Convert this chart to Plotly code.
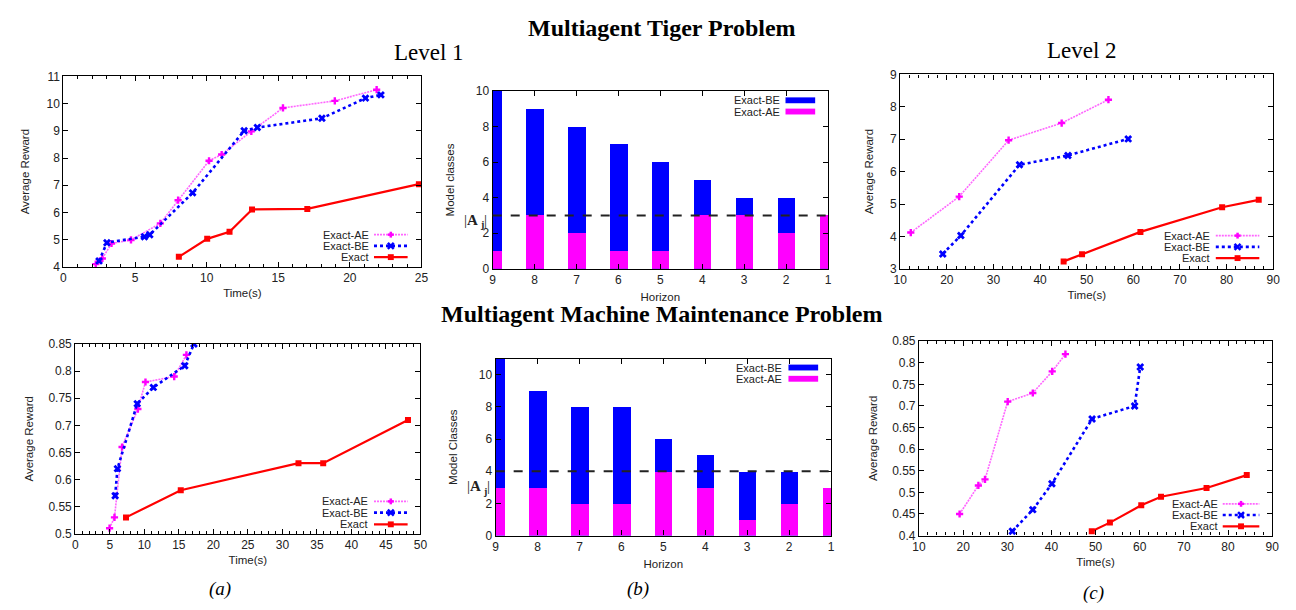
import plotly.graph_objects as go
from plotly.subplots import make_subplots

# ---------------- data ----------------
# Multiagent Tiger, Level 1
t1_ae_x = [2.26, 2.72, 3.36, 4.72, 6.77, 8.01, 10.17, 11.05, 13.12, 15.33, 18.95, 21.87]
t1_ae_y = [4.10, 4.31, 4.86, 4.99, 5.60, 6.45, 7.90, 8.13, 8.98, 9.84, 10.10, 10.51]
t1_be_x = [2.49, 3.04, 5.66, 6.03, 9.02, 12.62, 13.54, 18.05, 21.09, 22.17]
t1_be_y = [4.22, 4.89, 5.11, 5.18, 6.72, 9.00, 9.12, 9.46, 10.20, 10.32]
t1_ex_x = [8.06, 10.04, 11.60, 13.17, 17.03, 24.82]
t1_ex_y = [4.37, 5.03, 5.29, 6.11, 6.13, 7.04]

# Multiagent Tiger, model classes per horizon
horizon = [9, 8, 7, 6, 5, 4, 3, 2, 1]
tiger_be = [10, 9, 8, 7, 6, 5, 4, 4, 3]
tiger_ae = [1, 3, 2, 1, 1, 3, 3, 2, 3]
tiger_aj = 3

# Multiagent Tiger, Level 2
t2_ae_x = [12.26, 22.65, 33.25, 44.63, 54.66]
t2_ae_y = [4.12, 5.23, 6.97, 7.50, 8.22]
t2_be_x = [19.12, 23.00, 35.58, 45.97, 58.90]
t2_be_y = [3.46, 4.03, 6.21, 6.50, 7.01]
t2_ex_x = [45.05, 49.00, 61.52, 79.05, 86.90]
t2_ex_y = [3.23, 3.45, 4.14, 4.90, 5.13]

# Machine Maintenance, Level 1
m1_ae_x = [4.97, 5.68, 6.78, 9.07, 10.17, 14.33, 16.10]
m1_ae_y = [0.51, 0.53, 0.66, 0.73, 0.78, 0.79, 0.83]
m1_be_x = [5.78, 6.11, 8.98, 11.31, 15.86, 17.19]
m1_be_y = [0.57, 0.62, 0.74, 0.77, 0.81, 0.85]
m1_ex_x = [7.35, 15.28, 32.33, 35.91, 48.19]
m1_ex_y = [0.53, 0.58, 0.63, 0.63, 0.71]

# Machine Maintenance, model classes per horizon
mach_be = [11, 9, 8, 8, 6, 5, 4, 4, 3]
mach_ae = [3, 3, 2, 2, 4, 3, 1, 2, 3]
mach_aj = 4

# Machine Maintenance, Level 2
m2_ae_x = [19.19, 23.44, 24.94, 30.09, 35.77, 40.17, 43.16]
m2_ae_y = [0.45, 0.516, 0.53, 0.71, 0.73, 0.78, 0.82]
m2_be_x = [31.13, 35.77, 40.10, 49.20, 58.84, 60.11]
m2_be_y = [0.41, 0.46, 0.52, 0.67, 0.70, 0.79]
m2_ex_x = [49.13, 53.24, 60.34, 64.82, 75.13, 84.24]
m2_ex_y = [0.41, 0.43, 0.47, 0.49, 0.51, 0.54]

# ---------------- styling ----------------
W, H = 1296, 610
SANS = "Liberation Sans, Arial, sans-serif"
SERIF = "Liberation Serif, Times New Roman, serif"
MAG = "#ff00ff"
MAG_LINE = "#ff66ff"
BLUE = "#0000ff"
RED = "#ff0000"
TXT = "#222222"

AE_LINE = dict(color=MAG_LINE, width=1.6, dash="2px,1px")
BE_LINE = dict(color=BLUE, width=2.6, dash="dot")
EX_LINE = dict(color=RED, width=2.2)

fig = make_subplots(rows=2, cols=3)


def add_lines(row, col, ae, be, ex):
    fig.add_trace(go.Scatter(x=ae[0], y=ae[1], name="Exact-AE", mode="lines+markers",
                             line=AE_LINE, marker=dict(symbol="cross", size=6, color=MAG)),
                  row=row, col=col)
    fig.add_trace(go.Scatter(x=be[0], y=be[1], name="Exact-BE", mode="lines+markers",
                             line=BE_LINE, marker=dict(symbol="x", size=7, color=BLUE)),
                  row=row, col=col)
    fig.add_trace(go.Scatter(x=ex[0], y=ex[1], name="Exact", mode="lines+markers",
                             line=EX_LINE, marker=dict(symbol="square", size=6, color=RED)),
                  row=row, col=col)


def add_bars(row, col, be, ae):
    fig.add_trace(go.Bar(x=horizon, y=be, name="Exact-BE", width=0.42,
                         marker=dict(color=BLUE, line=dict(width=0))), row=row, col=col)
    fig.add_trace(go.Bar(x=horizon, y=ae, name="Exact-AE", width=0.42,
                         marker=dict(color=MAG, line=dict(width=0))), row=row, col=col)


add_lines(1, 1, (t1_ae_x, t1_ae_y), (t1_be_x, t1_be_y), (t1_ex_x, t1_ex_y))
add_bars(1, 2, tiger_be, tiger_ae)
add_lines(1, 3, (t2_ae_x, t2_ae_y), (t2_be_x, t2_be_y), (t2_ex_x, t2_ex_y))
add_lines(2, 1, (m1_ae_x, m1_ae_y), (m1_be_x, m1_be_y), (m1_ex_x, m1_ex_y))
add_bars(2, 2, mach_be, mach_ae)
add_lines(2, 3, (m2_ae_x, m2_ae_y), (m2_be_x, m2_be_y), (m2_ex_x, m2_ex_y))

axis_common = dict(showline=True, linecolor="black", linewidth=1.2, mirror="ticks",
                   ticks="inside", ticklen=5, tickcolor="black", showgrid=False,
                   zeroline=False, tickfont=dict(family=SANS, size=12, color=TXT),
                   title_font=dict(family=SANS, size=11.5, color=TXT))


def px(x):
    return x / W


def py(y):
    return 1 - y / H


layout_axes = {
    ("xaxis", "yaxis"): ((57, 419), (71, 266)),
    ("xaxis2", "yaxis2"): ((491, 830), (86, 268)),
    ("xaxis3", "yaxis3"): ((903, 1280), (69, 268)),
    ("xaxis4", "yaxis4"): ((69, 418), (345, 539)),
    ("xaxis5", "yaxis5"): ((494, 833), (360, 541)),
    ("xaxis6", "yaxis6"): ((922, 1279), (342, 541)),
}
for (xa, ya), ((x0, x1), (y0, y1)) in layout_axes.items():
    fig.layout[xa].update(domain=[px(x0), px(x1)], **axis_common)
    fig.layout[ya].update(domain=[py(y1), py(y0)], **axis_common)

minor_small = dict(ticks="inside", ticklen=3, tickcolor="black", showgrid=False)

# line charts
fig.layout.xaxis.update(range=[0, 25], dtick=5, title_text="Time(s)", title_standoff=4,
                        minor=dict(dtick=1, **minor_small))
fig.layout.yaxis.update(range=[4, 11], dtick=1, title_text="Average Reward", title_standoff=14)
fig.layout.xaxis3.update(range=[10, 90], dtick=10, title_text="Time(s)", title_standoff=4,
                         minor=dict(dtick=2, **minor_small))
fig.layout.yaxis3.update(range=[3, 9], dtick=1, title_text="Average Reward", title_standoff=14)
fig.layout.xaxis4.update(range=[0, 50], dtick=5, title_text="Time(s)", title_standoff=4,
                         minor=dict(dtick=1, **minor_small))
fig.layout.yaxis4.update(range=[0.5, 0.85], dtick=0.05, title_text="Average Reward",
                         title_standoff=12)
fig.layout.xaxis6.update(range=[10, 90], dtick=10, title_text="Time(s)", title_standoff=4,
                         minor=dict(dtick=2, **minor_small))
fig.layout.yaxis6.update(range=[0.4, 0.85], dtick=0.05, title_text="Average Reward",
                         title_standoff=12)

# bar charts
for xa in ("xaxis2", "xaxis5"):
    fig.layout[xa].update(range=[9, 1], tickvals=horizon, title_text="Horizon", title_standoff=6)
fig.layout.yaxis2.update(range=[0, 10], dtick=2, title_text="Model classes", title_standoff=18)
fig.layout.yaxis5.update(range=[0, 11], dtick=2, title_text="Model Classes", title_standoff=18)

# |A_j| reference lines
for yref, xdom, val in (("y2", "x2 domain", tiger_aj), ("y5", "x5 domain", mach_aj)):
    fig.add_shape(type="line", xref=xdom, x0=0, x1=1, yref=yref, y0=val, y1=val,
                  line=dict(color="#222222", width=2, dash="dash"))


def aj_label(yref, val, xpix, yshift):
    common = dict(xref="paper", yref=yref, y=val, showarrow=False, borderpad=0)
    fig.add_annotation(text="|<b>A</b>", x=px(xpix), xanchor="right", yshift=yshift,
                       font=dict(family=SERIF, size=15, color=TXT), **common)
    fig.add_annotation(text="<b>j</b>", x=px(xpix), xanchor="left", yshift=yshift - 5,
                       font=dict(family=SERIF, size=10, color=TXT), **common)
    fig.add_annotation(text="|", x=px(xpix + 4), xanchor="left", yshift=yshift,
                       font=dict(family=SERIF, size=15, color=TXT), **common)


aj_label("y2", tiger_aj, 477, -4)
aj_label("y5", mach_aj, 480, -15)


# titles and captions
def ann(text, x, y, size, bold=False, italic=False):
    t = f"<b>{text}</b>" if bold else text
    t = f"<i>{t}</i>" if italic else t
    fig.add_annotation(text=t, xref="paper", yref="paper", x=px(x), y=py(y),
                       showarrow=False, xanchor="center", yanchor="middle",
                       font=dict(family=SERIF, size=size, color="black"))


ann("Multiagent Tiger Problem", 662, 21, 24, bold=True)
ann("Level 1", 427, 47, 23)
ann("Level 2", 1087, 45, 23)
ann("Multiagent Machine Maintenance Problem", 662, 314, 24, bold=True)
ann("(a)", 215, 596, 19, italic=True)
ann("(b)", 638, 596, 19, italic=True)
ann("(c)", 1098, 600, 19, italic=True)


# ---------------- gnuplot-style keys (text left of sample) ----------------
def key_text(name, xr, y):
    fig.add_annotation(text=name, xref="paper", yref="paper", x=px(xr), y=py(y),
                       xanchor="right", yanchor="middle", showarrow=False, borderpad=0,
                       font=dict(family=SANS, size=11, color=TXT))


def seg(x0, y0, x1, y1, line):
    fig.add_shape(type="line", xref="paper", yref="paper",
                  x0=px(x0), y0=py(y0), x1=px(x1), y1=py(y1), line=line)


def line_key(xr, s0, s1, ys):
    cx = (s0 + s1) / 2
    key_text("Exact-AE", xr, ys[0])
    seg(s0, ys[0], s1, ys[0], AE_LINE)
    seg(cx - 3, ys[0], cx + 3, ys[0], dict(color=MAG, width=2.5))
    seg(cx, ys[0] - 3, cx, ys[0] + 3, dict(color=MAG, width=2.5))
    key_text("Exact-BE", xr, ys[1])
    seg(s0, ys[1], s1, ys[1], BE_LINE)
    seg(cx - 3, ys[1] - 3, cx + 3, ys[1] + 3, dict(color=BLUE, width=2.5))
    seg(cx - 3, ys[1] + 3, cx + 3, ys[1] - 3, dict(color=BLUE, width=2.5))
    key_text("Exact", xr, ys[2])
    seg(s0, ys[2], s1, ys[2], EX_LINE)
    fig.add_shape(type="rect", xref="paper", yref="paper",
                  x0=px(cx - 3), x1=px(cx + 3), y0=py(ys[2] - 3), y1=py(ys[2] + 3),
                  fillcolor=RED, line=dict(width=0))


def bar_key(xr, s0, s1, ys):
    for (name, color), y in zip((("Exact-BE", BLUE), ("Exact-AE", MAG)), ys):
        key_text(name, xr, y)
        fig.add_shape(type="rect", xref="paper", yref="paper",
                      x0=px(s0), x1=px(s1), y0=py(y + 3), y1=py(y - 3),
                      fillcolor=color, line=dict(width=0))


line_key(367, 371, 405, (233, 244.5, 256))
line_key(1217, 1222, 1266, (234, 245.5, 257))
line_key(366, 371, 405, (506, 517.5, 529.5))
line_key(1225, 1229, 1266, (508.5, 520, 531.5))
bar_key(782, 787, 817, (95.5, 107))
bar_key(784, 790, 820, (369, 380.5))

fig.update_layout(width=W, height=H, margin=dict(l=0, r=0, t=0, b=0),
                  paper_bgcolor="white", plot_bgcolor="white", barmode="overlay",
                  bargap=0, showlegend=False)

fig.write_html("out.html", config={"displayModeBar": False},
               post_script="document.body.style.margin='0';"
                           "document.body.style.overflow='hidden';")
